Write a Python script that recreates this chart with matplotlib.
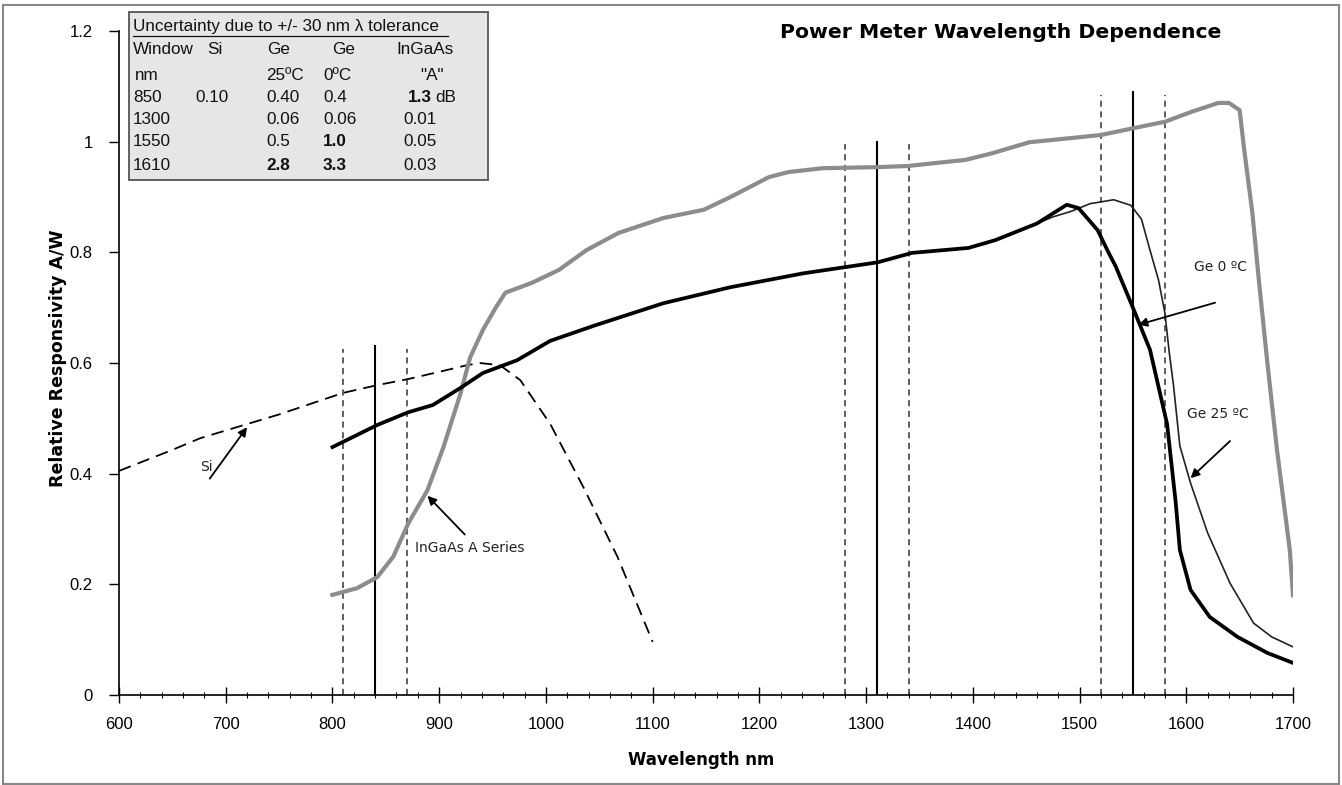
import numpy as np
import matplotlib
matplotlib.use('Agg')
import matplotlib.pyplot as plt
from matplotlib.patches import Rectangle
from matplotlib.lines import Line2D
from matplotlib.ticker import MultipleLocator, FuncFormatter

# Curve data (wavelength nm, relative responsivity A/W)
si_nm = [600, 650, 676, 700, 750, 810, 842, 871, 900, 926, 938, 957, 976, 1004, 1035, 1067, 1100]
si_val = [0.405, 0.443, 0.464, 0.478, 0.507, 0.546, 0.56, 0.571, 0.584, 0.596, 0.600, 0.596, 0.569,
          0.49, 0.376, 0.25, 0.096]

ge0_nm = [800, 842, 871, 894, 920, 941, 973, 1004, 1046, 1110, 1173, 1241, 1311, 1343, 1396, 1421,
          1460, 1488, 1499, 1517, 1526, 1534, 1550, 1566, 1582, 1590, 1594, 1604, 1622, 1648, 1676, 1700]
ge0_val = [0.448, 0.488, 0.511, 0.524, 0.555, 0.582, 0.605, 0.64, 0.668, 0.708, 0.737, 0.762, 0.782,
           0.799, 0.808, 0.822, 0.852, 0.886, 0.88, 0.84, 0.804, 0.774, 0.70, 0.624, 0.49, 0.35, 0.262,
           0.19, 0.141, 0.105, 0.076, 0.058]

ge25_nm = [800, 842, 871, 894, 920, 941, 973, 1004, 1046, 1110, 1173, 1241, 1311, 1343, 1396, 1421,
           1460, 1475, 1492, 1510, 1532, 1548, 1558, 1566, 1574, 1580, 1584, 1588, 1594, 1604, 1620,
           1641, 1663, 1680, 1700]
ge25_val = [0.448, 0.488, 0.511, 0.524, 0.555, 0.582, 0.605, 0.64, 0.668, 0.708, 0.737, 0.762, 0.782,
            0.799, 0.808, 0.822, 0.852, 0.864, 0.874, 0.888, 0.895, 0.885, 0.86, 0.804, 0.75, 0.69,
            0.62, 0.56, 0.45, 0.383, 0.293, 0.202, 0.13, 0.105, 0.087]

ingaas_nm = [800, 823, 842, 857, 871, 889, 904, 920, 929, 941, 953, 962, 987, 1012, 1038, 1068, 1110,
             1148, 1173, 1191, 1209, 1227, 1259, 1311, 1339, 1368, 1393, 1418, 1453, 1474, 1520, 1552,
             1580, 1605, 1630, 1640, 1650, 1654, 1662, 1668, 1676, 1685, 1697, 1700]
ingaas_val = [0.181, 0.193, 0.213, 0.25, 0.31, 0.37, 0.448, 0.545, 0.61, 0.66, 0.70, 0.727, 0.745,
              0.768, 0.804, 0.835, 0.862, 0.877, 0.90, 0.918, 0.936, 0.945, 0.952, 0.954, 0.956,
              0.962, 0.967, 0.979, 0.999, 1.003, 1.012, 1.025, 1.036, 1.054, 1.07, 1.07, 1.057,
              0.99, 0.87, 0.75, 0.60, 0.443, 0.262, 0.18]

# Tolerance windows: centre wavelength +/- 30 nm, line heights
window_nm = [840, 1310, 1550]
window_tol = 30
window_top = [0.63, 1.0, 1.09]

# Uncertainty table
table_title = 'Uncertainty due to +/- 30 nm \u03bb tolerance'
table_head = [['Window', 'Si', 'Ge', 'Ge', 'InGaAs'],
              ['nm', '', '25\u00baC', '0\u00baC', '"A"']]
table_rows = [['850', '0.10', '0.40', '0.4', '1.3'],
              ['1300', '', '0.06', '0.06', '0.01'],
              ['1550', '', '0.5', '1.0', '0.05'],
              ['1610', '', '2.8', '3.3', '0.03']]
table_bold = [(0, 4), (2, 3), (3, 2), (3, 3)]

W, H = 1342, 785
fig = plt.figure(figsize=(W / 100, H / 100), dpi=100)
fig.patch.set_facecolor('white')


def px(x, y):
    # pixel position (from top left) to figure fraction
    return x / W, 1 - y / H


ax = fig.add_axes([119 / W, 1 - 695 / H, (1293 - 119) / W, (695 - 31) / H])
ax.set_facecolor('white')

# Window lines
for c, top in zip(window_nm, window_top):
    ax.plot([c, c], [0, top], color='k', lw=1.5, zorder=2)
    for d in (c - window_tol, c + window_tol):
        ax.plot([d, d], [0, top - 0.005], color='#333333', lw=1.1, linestyle=(0, (4, 3)), zorder=2)

# Curves
ax.plot(si_nm, si_val, color='k', lw=1.3, linestyle=(0, (7, 4)), zorder=3)
ax.plot(ingaas_nm, ingaas_val, color='#8c8c8c', lw=3.0, zorder=3)
ax.plot(ge25_nm, ge25_val, color='#222222', lw=1.2, zorder=4)
ax.plot(ge0_nm, ge0_val, color='k', lw=2.7, zorder=5)

# Annotations
arr = dict(arrowstyle='-|>', color='k', lw=1.3, mutation_scale=13, shrinkA=0, shrinkB=0)
txt = dict(fontsize=10, family='DejaVu Sans', color='#222222')
ax.annotate('', xy=(720, 0.484), xytext=(685, 0.391), arrowprops=arr, zorder=6)
ax.text(676, 0.412, 'Si', va='center', ha='left', **txt)
ax.annotate('', xy=(889, 0.36), xytext=(924, 0.29), arrowprops=arr, zorder=6)
ax.text(877, 0.266, 'InGaAs A Series', va='center', ha='left', **txt)
ax.annotate('', xy=(1555, 0.669), xytext=(1627, 0.709), arrowprops=arr, zorder=6)
ax.text(1607, 0.774, 'Ge 0 \u00baC', va='center', ha='left', **txt)
ax.annotate('', xy=(1604, 0.392), xytext=(1641, 0.459), arrowprops=arr, zorder=6)
ax.text(1601, 0.508, 'Ge 25 \u00baC', va='center', ha='left', **txt)

# Axes styling
ax.set_xlim(600, 1700)
ax.set_ylim(0, 1.2)
for s in ('top', 'right'):
    ax.spines[s].set_visible(False)
for s in ('left', 'bottom'):
    ax.spines[s].set_linewidth(1.2)
ax.xaxis.set_major_locator(MultipleLocator(100))
ax.xaxis.set_minor_locator(MultipleLocator(20))
ax.yaxis.set_major_locator(MultipleLocator(0.2))
ax.yaxis.set_major_formatter(FuncFormatter(lambda v, p: '%g' % round(v, 2)))
ax.tick_params(axis='x', which='major', direction='inout', length=11, width=1, pad=10,
               labelsize=12)
ax.tick_params(axis='x', which='minor', direction='inout', length=4, width=0.8)
ax.tick_params(axis='y', which='major', direction='out', length=7, width=1, pad=12, labelsize=12)
for lab in ax.get_xticklabels() + ax.get_yticklabels():
    lab.set_family('Liberation Sans')

fig.text(*px(701, 760), 'Wavelength nm', ha='center', va='center', fontsize=12,
         fontweight='bold', family='DejaVu Sans')
fig.text(*px(58, 358), 'Relative Responsivity A/W', ha='center', va='center', rotation=90,
         fontsize=12.5, fontweight='bold', family='DejaVu Sans')
fig.text(*px(1001, 32), 'Power Meter Wavelength Dependence', ha='center', va='center',
         fontsize=14.7, fontweight='bold', family='DejaVu Sans')

# Table box
x0, y0 = px(129, 180)
x1, y1 = px(488, 12)
fig.add_artist(Rectangle((x0, y0), x1 - x0, y1 - y0, transform=fig.transFigure,
                         facecolor='#e6e6e6', edgecolor='#555555', lw=1.3, zorder=10))
tfont = dict(fontsize=12.3, family='Liberation Sans', va='center', zorder=11, color='#111111')
fig.text(*px(133, 27), table_title, ha='left', **tfont)
fig.add_artist(Line2D([133 / W, 448 / W], [1 - 36 / H, 1 - 36 / H], transform=fig.transFigure,
                      color='#111111', lw=0.9, zorder=11))
col_x = [133, 195, 266, 323, 403]
head_x = [[133, 207, 267, 332, 396], [135, 0, 266, 323, 420]]
head_y = [50, 75]
row_y = [97, 119, 142, 165]
for r, row in enumerate(table_head):
    for c, s in enumerate(row):
        if s:
            fig.text(*px(head_x[r][c], head_y[r]), s, ha='left', **tfont)
for r, row in enumerate(table_rows):
    for c, s in enumerate(row):
        if not s:
            continue
        bold = (r, c) in table_bold
        fig.text(*px(col_x[c] + (5 if (r, c) == (0, 4) else 0), row_y[r]), s, ha='left',
                 fontweight='bold' if bold else 'normal', **tfont)
fig.text(*px(435, row_y[0]), 'dB', ha='left', **tfont)

# Outer chart-area border
fig.add_artist(Rectangle((3 / W, 1 / H), (W - 6) / W, (H - 6) / H, transform=fig.transFigure,
                         facecolor='none', edgecolor='#888888', lw=1.5, zorder=0))

fig.savefig('out.png', dpi=100, facecolor=fig.get_facecolor())
